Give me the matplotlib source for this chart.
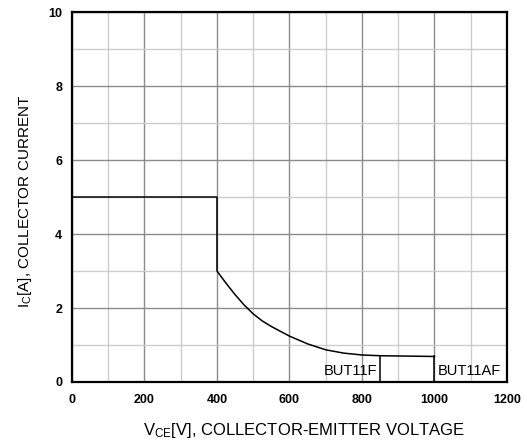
import numpy as np
import matplotlib.pyplot as plt
from matplotlib.ticker import MultipleLocator

plt.rcParams['font.family'] = ['Liberation Sans', 'DejaVu Sans']
plt.rcParams['mathtext.fontset'] = 'custom'
plt.rcParams['mathtext.rm'] = 'Liberation Sans'

# safe operating area boundary
vce = [0, 400, 400, 425, 450, 475, 500, 525, 550, 600, 650, 700, 750, 800, 850, 1000]
ic = [5.0, 5.0, 3.0, 2.67, 2.36, 2.08, 1.84, 1.65, 1.5, 1.24, 1.03, 0.87, 0.78, 0.73, 0.71, 0.69]

# voltage limits of the two parts
vce_f, ic_f = 850, 0.71
vce_af, ic_af = 1000, 0.69

fig = plt.figure(figsize=(5.27, 4.43), dpi=100)
ax = fig.add_axes([0.1366, 0.1377, 0.8254, 0.8352])

ax.plot(vce, ic, color='black', lw=1.1)
ax.plot([vce_f, vce_f], [0, ic_f], color='black', lw=1.1)
ax.plot([vce_af, vce_af], [0, ic_af], color='black', lw=1.1)

ax.text(vce_f - 8, 0.3, 'BUT11F', ha='right', va='center', fontsize=10.5)
ax.text(vce_af + 8, 0.3, 'BUT11AF', ha='left', va='center', fontsize=10.5)

ax.set_xlim(0, 1200)
ax.set_ylim(0, 10)
ax.xaxis.set_major_locator(MultipleLocator(200))
ax.xaxis.set_minor_locator(MultipleLocator(100))
ax.yaxis.set_major_locator(MultipleLocator(2))
ax.yaxis.set_minor_locator(MultipleLocator(1))
ax.grid(which='major', color='#8c8c8c', lw=1.0)
ax.grid(which='minor', color='#cccccc', lw=1.0)
ax.set_axisbelow(True)

ax.tick_params(which='both', length=0)
ax.tick_params(axis='x', pad=9)
ax.tick_params(axis='y', pad=7)
for lbl in ax.get_xticklabels() + ax.get_yticklabels():
    lbl.set_fontweight('bold')
    lbl.set_fontsize(9)

for sp in ax.spines.values():
    sp.set_linewidth(1.6)

ax.set_xlabel(r'$\mathregular{V_{CE}[V]}$, COLLECTOR-EMITTER VOLTAGE', fontsize=12, labelpad=10)
ax.xaxis.set_label_coords(0.534, -0.105)
ax.set_ylabel(r'$\mathregular{I_C[A]}$, COLLECTOR CURRENT', fontsize=11)
ax.yaxis.set_label_coords(-0.087, 0.487)

fig.savefig('out.png', dpi=100)
